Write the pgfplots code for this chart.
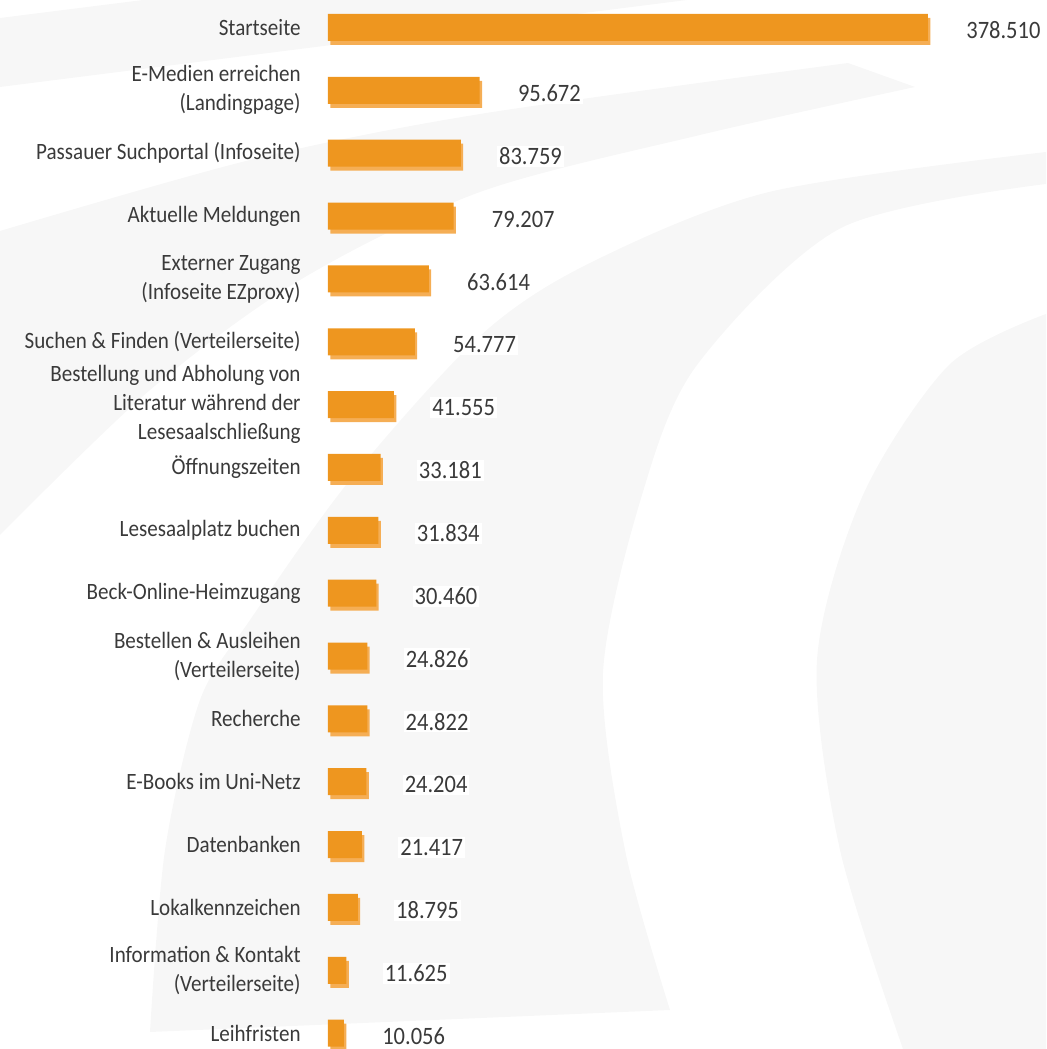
\documentclass[border=0pt]{standalone}
\usepackage{pgfplots}
\pgfplotsset{compat=1.18}
\usepackage{pgfplotstable}
\usepackage{fontspec}
\setmainfont{Carlito}[FakeStretch=0.9]
\definecolor{barc}{HTML}{EE961F}
\definecolor{shadc}{HTML}{F5AE55}
\definecolor{bgc}{HTML}{F7F7F7}
\definecolor{txt}{HTML}{3A3A3A}
\pgfplotstableread{
i v lab
0 378510 378.510
1 95672 95.672
2 83759 83.759
3 79207 79.207
4 63614 63.614
5 54777 54.777
6 41555 41.555
7 33181 33.181
8 31834 31.834
9 30460 30.460
10 24826 24.826
11 24822 24.822
12 24204 24.204
13 21417 21.417
14 18795 18.795
15 11625 11.625
16 10056 10.056
}\data
\begin{document}
\begin{tikzpicture}
\path[use as bounding box] (0,0) rectangle (523pt,524.5pt);
\begin{scope}[x=0.5pt,y=-0.5pt,yshift=524.5pt]
 \fill[bgc] (0,18) -- (143,0) -- (687,0) -- (0,87) -- cycle;
 \fill[bgc] plot[smooth] coordinates {(848,63) (480,114) (250,160) (0,231)} -- (0,535)
   -- plot[smooth] coordinates {(0,535) (150,390) (300,280) (480,192) (700,135) (915,87)} -- cycle;
 \fill[bgc] plot[smooth] coordinates {(1046,152) (769,192) (588,264) (480,336) (350,480) (250,620) (200,700) (165,850) (150,1032)}
   -- (670,1010)
   -- plot[smooth] coordinates {(670,1010) (625,850) (603,673) (642,495) (697,365) (841,228) (1046,184)} -- cycle;
 \fill[bgc] plot[smooth] coordinates {(1046,314) (949,365) (863,495) (817,660) (840,850) (903,1049)} -- (1046,1049) -- cycle;
\end{scope}
\begin{axis}[
  at={(164pt,0pt)}, anchor=south west,
  scale only axis, width=317pt, height=524.5pt,
  xmin=0, xmax=400000, ymin=-0.4375, ymax=16.253,
  y dir=reverse, clip=false,
  axis line style={draw=none}, major tick length=0pt,
  xtick=\empty, ytick={0,...,16},
  yticklabels={{Startseite},{E-Medien erreichen\\(Landingpage)},{Passauer Suchportal (Infoseite)},{Aktuelle Meldungen},{Externer Zugang\\(Infoseite EZproxy)},{Suchen \& Finden (Verteilerseite)},{Bestellung und Abholung von\\Literatur während der\\Lesesaalschließung},{Öffnungszeiten},{Lesesaalplatz buchen},{Beck-Online-Heimzugang},{Bestellen \& Ausleihen\\(Verteilerseite)},{Recherche},{E-Books im Uni-Netz},{Datenbanken},{Lokalkennzeichen},{Information \& Kontakt\\(Verteilerseite)},{Leihfristen}},
  yticklabel style={align=right, font=\fontsize{11.7}{14.5}\selectfont, text=txt, inner sep=0pt, xshift=-13.5pt},
]
\addplot[xbar, bar width=13.5pt, fill=shadc, draw=none, xshift=1.2pt, yshift=-2pt] table[x=v,y=i]{\data};
\addplot[xbar, bar width=13.5pt, fill=barc, draw=none,
  nodes near coords, point meta=explicit symbolic,
  every node near coord/.style={anchor=west, xshift=18pt, yshift=-1.5pt, fill=white, inner sep=1pt, text=txt, font=\fontsize{12.5}{13}\selectfont}]
  table[x=v,y=i,meta=lab]{\data};
\end{axis}
\end{tikzpicture}
\end{document}
